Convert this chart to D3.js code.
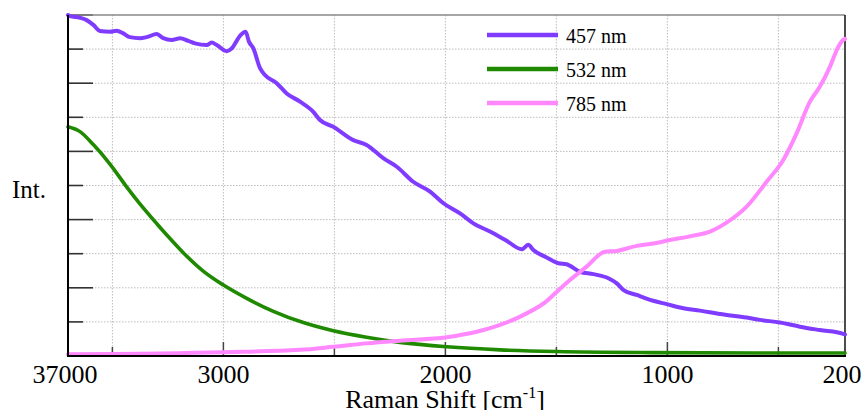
<!DOCTYPE html>
<html>
<head>
<meta charset="utf-8">
<script src="https://cdn.jsdelivr.net/npm/d3@7/dist/d3.min.js"></script>
<style>
  html, body { margin: 0; padding: 0; background: #fff; }
  svg { display: block; font-family: "Liberation Serif", "Times New Roman", serif; }
</style>
</head>
<body>
<svg id="chart" width="865" height="410"></svg>
<script>
// ---- data (Raman shift cm^-1, relative intensity 0..10) ----
const shift457 = [3700,3691,3646,3616,3586,3556,3511,3481,3451,3421,3376,3346,3300,3271,3233,3195,3158,3128,3075,3053,3030,2985,2963,2925,2900,2885,2865,2835,2813,2760,2715,2655,2595,2565,2505,2415,2355,2280,2219,2145,2069,2009,1934,1874,1799,1724,1656,1627,1604,1544,1491,1454,1394,1334,1266,1228,1199,1138,1064,1003,928,853,763,643,583,493,403,313,208,200];
const int457   = [10.0,9.97,9.92,9.85,9.71,9.53,9.51,9.54,9.46,9.35,9.32,9.35,9.44,9.32,9.27,9.32,9.24,9.17,9.12,9.19,9.12,8.94,9.02,9.39,9.51,9.22,9.02,8.44,8.24,8.00,7.70,7.46,7.16,6.92,6.72,6.33,6.19,5.80,5.55,5.11,4.82,4.48,4.18,3.89,3.65,3.38,3.13,3.26,3.11,2.89,2.72,2.69,2.47,2.40,2.28,2.13,1.94,1.79,1.62,1.52,1.40,1.33,1.23,1.13,1.06,0.98,0.86,0.76,0.65,0.63];

const shift532 = [3700,3646,3586,3511,3436,3376,3300,3255,3181,3091,3000,2895,2775,2640,2505,2355,2205,1994,1754,1499,1078,600,200];
const int532   = [6.72,6.58,6.20,5.63,4.96,4.46,3.88,3.55,3.03,2.49,2.08,1.69,1.31,0.98,0.74,0.55,0.40,0.27,0.18,0.13,0.10,0.09,0.09];

const shift785 = [3700,3000,2655,2505,2355,2205,1994,1859,1754,1634,1544,1514,1439,1364,1281,1228,1180,1138,1064,989,883,808,727,643,553,478,418,358,313,268,230,208,200];
const int785   = [0.05,0.11,0.18,0.27,0.37,0.45,0.55,0.71,0.91,1.25,1.61,1.79,2.23,2.62,3.06,3.08,3.16,3.23,3.30,3.40,3.53,3.65,3.94,4.38,5.11,5.75,6.53,7.46,7.90,8.48,9.07,9.27,9.30];

const seriesNames  = ["457 nm", "532 nm", "785 nm"];
const seriesColors = ["#7f3cff", "#1f8a00", "#ff88ff"];

const xTickValues = [3700, 3000, 2000, 1000, 200];
const xTickLabels = ["37000", "3000", "2000", "1000", "200"];
const xGridValues = [3500, 3000, 2500, 2000, 1500, 1000, 500];
const yGridValues = [1, 2, 3, 4, 5, 6, 7, 8, 9];

// ---- layout ----
const W = 865, H = 410;
const L = 68, R = 845, T = 15, B = 356;

const svg = d3.select("#chart");
svg.append("rect").attr("width", W).attr("height", H).attr("fill", "#fff");

const x = d3.scaleLinear().domain([3700, 200]).range([L, R]);
const y = d3.scaleLinear().domain([0, 10]).range([B, T]);

// grid
const grid = svg.append("g");
grid.selectAll(".vg").data(xGridValues).join("line")
  .attr("x1", d => x(d)).attr("x2", d => x(d))
  .attr("y1", T).attr("y2", B)
  .attr("stroke", "#bdbdbd").attr("stroke-width", 1).attr("stroke-dasharray", "1.5,1.5");
grid.selectAll(".hg").data(yGridValues).join("line")
  .attr("x1", L).attr("x2", R)
  .attr("y1", d => y(d)).attr("y2", d => y(d))
  .attr("stroke", "#bdbdbd").attr("stroke-width", 1).attr("stroke-dasharray", "1.5,1.5");

// left ticks (inward), alternating long/short
const yTickAll = d3.range(1, 11);
svg.append("g").selectAll("line").data(yTickAll).join("line")
  .attr("x1", L).attr("x2", d => L + (d % 2 === 0 ? 25 : 15))
  .attr("y1", d => y(d)).attr("y2", d => y(d))
  .attr("stroke", "#333").attr("stroke-width", 1.6);

// bottom ticks (inward)
svg.append("g").selectAll("line").data(xGridValues).join("line")
  .attr("x1", d => x(d)).attr("x2", d => x(d))
  .attr("y1", B).attr("y2", d => B - (d % 1000 === 0 ? 14 : 9))
  .attr("stroke", "#444").attr("stroke-width", 1.5);

// frame
svg.append("line").attr("x1", L).attr("x2", R).attr("y1", T).attr("y2", T)
  .attr("stroke", "#888").attr("stroke-width", 1.5);
svg.append("line").attr("x1", R).attr("x2", R).attr("y1", T).attr("y2", B)
  .attr("stroke", "#111").attr("stroke-width", 1.5);

// data lines
const line = d3.line().curve(d3.curveMonotoneX).x(d => x(d[0])).y(d => y(d[1]));
const series = [
  d3.zip(shift457, int457),
  d3.zip(shift532, int532),
  d3.zip(shift785, int785)
];
const widths = [4, 3.6, 4];
svg.append("g").selectAll("path").data(series).join("path")
  .attr("d", line)
  .attr("fill", "none")
  .attr("stroke", (d, i) => seriesColors[i])
  .attr("stroke-width", (d, i) => widths[i])
  .attr("stroke-linejoin", "round")
  .attr("stroke-linecap", "round");

// axes lines
svg.append("line").attr("x1", L).attr("x2", L).attr("y1", T).attr("y2", B + 1)
  .attr("stroke", "#000").attr("stroke-width", 2);
svg.append("line").attr("x1", L - 1).attr("x2", R + 1).attr("y1", B).attr("y2", B)
  .attr("stroke", "#000").attr("stroke-width", 2);

// x tick labels
svg.append("g").selectAll("text").data(xTickValues).join("text")
  .attr("x", (d, i) => x(d) + ((i === 0 || i === xTickValues.length - 1) ? -3 : 0))
  .attr("y", 383)
  .attr("text-anchor", "middle")
  .attr("font-size", 26)
  .attr("fill", "#000")
  .text((d, i) => xTickLabels[i]);

// axis titles
const xt = svg.append("text")
  .attr("x", 445).attr("y", 408)
  .attr("text-anchor", "middle")
  .attr("font-size", 26)
  .attr("fill", "#000");
xt.append("tspan").text("Raman Shift [cm");
xt.append("tspan").attr("dy", -10).attr("font-size", 16).text("-1");
xt.append("tspan").attr("dy", 10).text("]");

svg.append("text")
  .attr("x", 12).attr("y", 198)
  .attr("font-size", 25)
  .attr("fill", "#000")
  .text("Int.");

// legend
const legY = [35, 69, 103];
const lg = svg.append("g");
lg.selectAll("line").data(seriesNames).join("line")
  .attr("x1", 487).attr("x2", 558)
  .attr("y1", (d, i) => legY[i]).attr("y2", (d, i) => legY[i])
  .attr("stroke", (d, i) => seriesColors[i])
  .attr("stroke-width", 4.5);
lg.selectAll("text").data(seriesNames).join("text")
  .attr("x", 566)
  .attr("y", (d, i) => legY[i] + 7.5)
  .attr("font-size", 20)
  .attr("fill", "#000")
  .text(d => d);
</script>
</body>
</html>
